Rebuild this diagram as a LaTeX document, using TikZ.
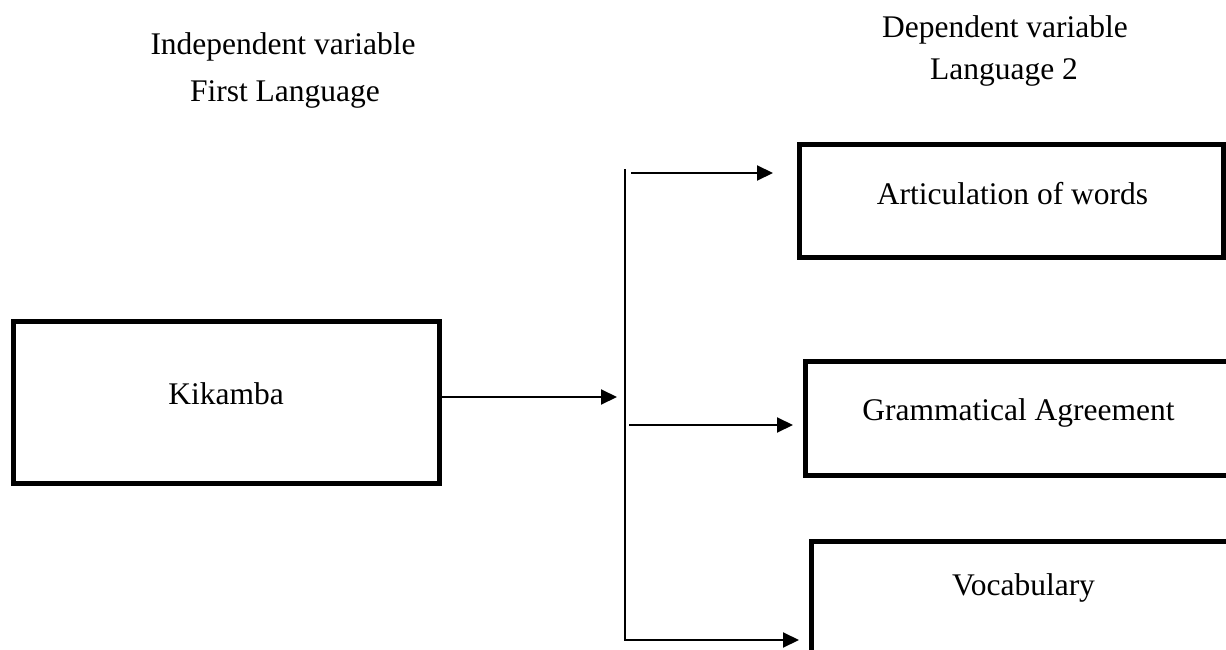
\documentclass[tikz,border=0pt]{standalone}
\usepackage{fontspec}
\setmainfont{Liberation Serif}
\usetikzlibrary{arrows.meta}
\begin{document}
\begin{tikzpicture}[x=1pt,y=-1pt,
  box/.style={draw, line width=5pt, rectangle, inner sep=0pt},
  lbl/.style={anchor=base, inner sep=0pt, font=\fontsize{31.5}{38}\selectfont},
  conn/.style={line width=2pt},
  arr/.style={line width=2pt, -{Triangle[length=16pt,width=15pt]}}]
\useasboundingbox (0,0) rectangle (1226,650);
\begin{scope}
\clip (0,0) rectangle (1226,650);
\node[box, minimum width=426pt, minimum height=162pt] (kik) at (226,402) {};
\node[box, minimum width=424pt, minimum height=112pt] (art) at (1011,201) {};
\node[box, minimum width=455pt, minimum height=114pt] (gram) at (1032.5,418) {};
\node[box, minimum width=449pt, minimum height=159pt] (voc) at (1035.5,620.5) {};
\end{scope}
% headings
\node[lbl] (ind) at (283,55) {Independent variable};
\node[lbl] (first) at (285,102) {First Language};
\node[lbl] (dep) at (1005,38) {Dependent variable};
\node[lbl] (l2) at (1004,80) {Language 2};
% box labels
\node[lbl] (kikt) at (226,404) {Kikamba};
\node[lbl] (artt) at (1012.5,204) {Articulation of words};
\node[lbl] (gramt) at (1018.5,420) {Grammatical Agreement};
\node[lbl] (voct) at (1023.5,595) {Vocabulary};
% connectors
\coordinate (vtop) at (625,169);
\coordinate (vbot) at (625,641);
\draw[conn] (vtop) -- (vbot);
\coordinate (kend) at (617,397);
\draw[arr] (kik.east |- kend) -- (kend);
\coordinate (s1) at (631,173);
\draw[arr, shorten >=23.5pt] (s1) -- (s1 -| art.west);
\coordinate (s2) at (629,425);
\draw[arr, shorten >=9.5pt] (s2) -- (s2 -| gram.west);
\coordinate (s3) at (626,640);
\draw[arr, shorten >=9.5pt] (s3) -- (s3 -| voc.west);
\end{tikzpicture}
\end{document}
